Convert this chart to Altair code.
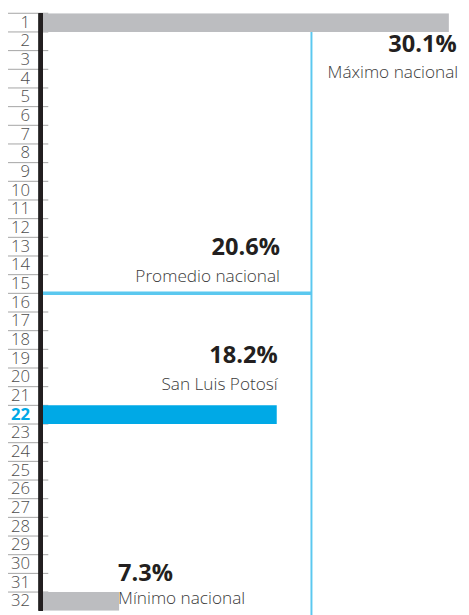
import altair as alt
import pandas as pd

# ---- data ----
rows = list(range(1, 33))
bar_rows = [1, 22, 32]
bar_values = [30.1, 18.2, 7.3]
bar_names = ["Máximo nacional", "San Luis Potosí", "Mínimo nacional"]
bar_kinds = ["extremo", "estado", "extremo"]
mean_value = 20.6
mean_name = "Promedio nacional"
mean_row = 16          # first rank below the national average
highlight_row = 22

x_domain = [2.03, 30.77]

rows_df = pd.DataFrame({"row": rows})
bars_df = pd.DataFrame({"row": bar_rows, "value": bar_values,
                        "name": bar_names, "kind": bar_kinds})
bars_df["pct"] = bars_df["value"].map(lambda v: f"{v:.1f}%")
mean_df = pd.DataFrame({"row": [mean_row], "value": [mean_value],
                        "name": [mean_name], "pct": [f"{mean_value:.1f}%"]})
top_df = pd.DataFrame({"row": [2], "value": [mean_value]})

FONT = "Open Sans"
yscale = alt.Scale(domain=rows, paddingInner=0, paddingOuter=0)
xscale = alt.Scale(domain=x_domain, zero=False, nice=False)

y_axis = alt.Axis(
    title=None, domain=False, ticks=False, grid=False,
    labelFont=FONT, labelFontSize=17, labelPadding=13.5,
    labelFontWeight=alt.ExprRef(f"datum.label == '{highlight_row}' ? 'bold' : 300"),
    labelColor=alt.ExprRef(f"datum.label == '{highlight_row}' ? '#00A9E6' : '#4d4d4d'"),
)

# separators for each rank row
seps = alt.Chart(rows_df).mark_rule(color="#a3a3a3", strokeWidth=1).encode(
    y=alt.Y("row:O", scale=yscale, axis=y_axis, bandPosition=0),
    x=alt.value(-35.5), x2=alt.value(5.5),
)

axis_line = alt.Chart(rows_df).mark_rule(color="#231f20", strokeWidth=4).encode(
    x=alt.value(-2), y=alt.value(0), y2=alt.value(608),
)

bars = alt.Chart(bars_df).mark_bar(clip=True).encode(
    y=alt.Y("row:O", scale=yscale),
    x=alt.X("value:Q", scale=xscale, axis=None),
    color=alt.Color("kind:N", scale=alt.Scale(domain=["extremo", "estado"],
                                              range=["#bcbdc0", "#00a9e6"]),
                    legend=None),
)

mean_h = alt.Chart(mean_df).mark_rule(color="#5bc8ef", strokeWidth=3.5).encode(
    y=alt.Y("row:O", scale=yscale, bandPosition=0),
    x=alt.X("value:Q", scale=xscale),
    x2=alt.value(0),
)

mean_v = alt.Chart(top_df).mark_rule(color="#5bc8ef", strokeWidth=2).encode(
    x=alt.X("value:Q", scale=xscale),
    y=alt.Y("row:O", scale=yscale, bandPosition=0),
    y2=alt.value(615),
)


def txt(df, field, dx, dy, bold, align="right"):
    return alt.Chart(df).mark_text(
        align=align, baseline="alphabetic", dx=dx, dy=dy, font=FONT,
        fontSize=24 if bold else 17.5,
        fontWeight="bold" if bold else 300,
        color="#231f20" if bold else "#3a3a3a",
    ).encode(
        x=alt.X("value:Q", scale=xscale),
        y=alt.Y("row:O", scale=yscale),
        text=f"{field}:N",
    )


mx = bars_df[bars_df.row == bar_rows[0]]
st = bars_df[bars_df.row == bar_rows[1]]
mn = bars_df[bars_df.row == bar_rows[2]]

texts = [
    txt(mx, "pct", 8, 30, True),
    txt(mx, "name", 9.5, 56, False),
    txt(mean_df, "pct", -32, -49, True),
    txt(mean_df, "name", -32, -21, False),
    txt(st, "pct", 1, -53, True),
    txt(st, "name", 1, -25, False),
    txt(mn, "pct", -1, -20.5, True, align="left"),
    txt(mn, "name", -1, 2.5, False, align="left"),
]

chart = alt.layer(seps, bars, mean_h, mean_v, axis_line, *texts).properties(
    width=423, height=608,
    padding={"left": 35.5, "top": 0, "right": 2.5, "bottom": 0},
    autosize=alt.AutoSizeParams(type="none"),
).configure_view(stroke=None)

chart.save("out.html", embed_options={"renderer": "svg", "actions": False})
